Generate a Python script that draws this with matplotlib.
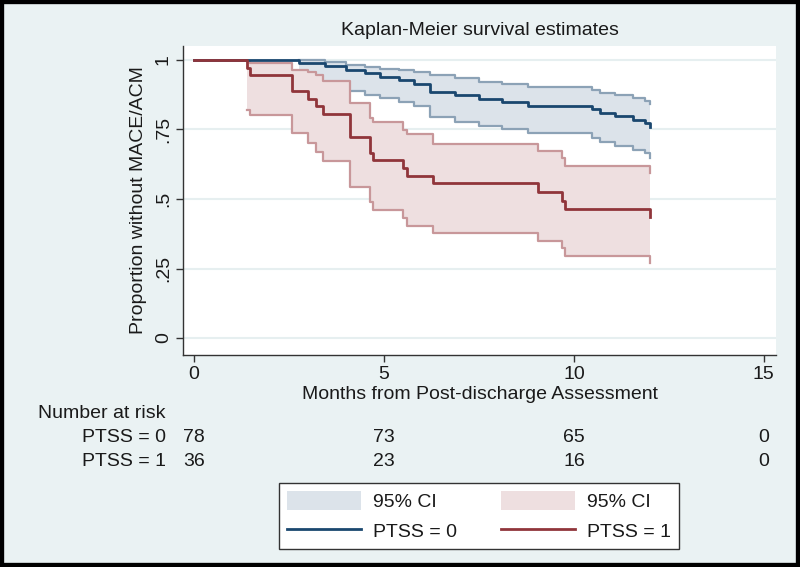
import matplotlib
matplotlib.use("Agg")
import matplotlib.pyplot as plt
from matplotlib.patches import Patch, Rectangle
from matplotlib.lines import Line2D
import matplotlib.transforms as mtransforms

plt.rcParams['font.family'] = ['Liberation Sans', 'DejaVu Sans']

# ---------------- data ----------------
title = "Kaplan-Meier survival estimates"
xlabel = "Months from Post-discharge Assessment"
ylabel = "Proportion without MACE/ACM"
xticks = [0, 5, 10, 15]
yticks = [0, 0.25, 0.5, 0.75, 1]
ytick_labels = ["0", ".25", ".5", ".75", "1"]

# PTSS = 0 Kaplan-Meier estimate
t0 = [0, 2.77, 3.45, 3.99, 4.50, 4.89, 5.40, 5.80, 6.20, 6.87, 7.49, 8.10,
      8.80, 10.47, 10.68, 11.08, 11.56, 11.87, 12.0]
s0 = [1.0, 0.988, 0.977, 0.965, 0.952, 0.940, 0.928, 0.914, 0.886, 0.873,
      0.860, 0.848, 0.835, 0.823, 0.810, 0.797, 0.784, 0.772, 0.758]
# 95% CI for PTSS = 0 (defined from the first event)
ci0_t = t0[1:]
ub0 = [0.998, 0.991, 0.983, 0.976, 0.967, 0.962, 0.955, 0.944, 0.935, 0.922,
       0.912, 0.903, 0.892, 0.882, 0.873, 0.862, 0.851, 0.842]
lb0 = [0.910, 0.902, 0.890, 0.874, 0.862, 0.850, 0.835, 0.796, 0.778, 0.764,
       0.751, 0.736, 0.721, 0.706, 0.691, 0.676, 0.664, 0.646]

# PTSS = 1 Kaplan-Meier estimate
t1 = [0, 1.39, 1.47, 2.59, 3.01, 3.21, 3.40, 4.10, 4.63, 4.72, 5.49, 5.60,
      6.28, 9.06, 9.68, 9.76, 12.0]
s1 = [1.0, 0.972, 0.944, 0.889, 0.861, 0.833, 0.806, 0.722, 0.667, 0.639,
      0.611, 0.583, 0.556, 0.525, 0.494, 0.463, 0.434]
ci1_t = t1[1:]
ub1 = [0.996, 0.988, 0.964, 0.955, 0.946, 0.925, 0.844, 0.790, 0.778, 0.748,
       0.732, 0.698, 0.674, 0.646, 0.619, 0.592]
lb1 = [0.820, 0.802, 0.736, 0.700, 0.670, 0.637, 0.544, 0.490, 0.460, 0.431,
       0.403, 0.377, 0.349, 0.323, 0.295, 0.271]

risk_times = [0, 5, 10, 15]
risk_labels = ["PTSS = 0", "PTSS = 1"]
risk_ptss0 = [78, 73, 65, 0]
risk_ptss1 = [36, 23, 16, 0]

legend_labels = ["95% CI", "PTSS = 0", "95% CI", "PTSS = 1"]

# ---------------- style ----------------
bg = "#EAF2F3"
navy = "#1A476F"
maroon = "#90353B"
navy_ci_fill = "#DCE3EA"
navy_ci_edge = "#8CA2B6"
maroon_ci_fill = "#EEDFE0"
maroon_ci_edge = "#C8979A"
txt = "#1a1a1a"
fs = 14

fig = plt.figure(figsize=(8.0, 5.67), dpi=100, facecolor=bg)
ax = fig.add_axes([183/800, 1-355/567, (776-183)/800, (355-46)/567])
ax.set_facecolor("white")

ax.set_xlim(-0.29, 15.32)
ax.set_ylim(-0.061, 1.05)

for y in yticks:
    ax.axhline(y, color="#E6EFF0", lw=1.5, zorder=0)

# CI bands: blue first, then red on top
ax.fill_between(ci0_t, lb0, ub0, step="post", color=navy_ci_fill, lw=0, zorder=1)
ax.step(ci0_t, ub0, where="post", color=navy_ci_edge, lw=1.6, zorder=2)
ax.step(ci0_t, lb0, where="post", color=navy_ci_edge, lw=1.6, zorder=2)
ax.fill_between(ci1_t, lb1, ub1, step="post", color=maroon_ci_fill, lw=0, zorder=3)
ax.step(ci1_t, ub1, where="post", color=maroon_ci_edge, lw=1.6, zorder=4)
ax.step(ci1_t, lb1, where="post", color=maroon_ci_edge, lw=1.6, zorder=4)

ax.step(t0, s0, where="post", color=navy, lw=2.0, zorder=5)
ax.step(t1, s1, where="post", color=maroon, lw=2.0, zorder=6)

for side in ["top", "right"]:
    ax.spines[side].set_visible(False)
for side in ["left", "bottom"]:
    ax.spines[side].set_color("#333333")
    ax.spines[side].set_linewidth(1.0)

ax.set_xticks(xticks)
ax.set_xticklabels([str(v) for v in xticks], fontsize=fs, color=txt)
ax.set_yticks(yticks)
ax.set_yticklabels(ytick_labels, fontsize=fs, color=txt, rotation=90, va="center")
ax.tick_params(axis="both", direction="out", length=5, width=1.0, color="#333333", pad=3)

ax.set_xlabel(xlabel, fontsize=fs, color=txt, labelpad=2)
ax.set_ylabel(ylabel, fontsize=fs, color=txt, labelpad=6)
ax.set_title(title, fontsize=fs, color=txt, pad=8)

# risk table
trans = mtransforms.blended_transform_factory(ax.transData, fig.transFigure)
fig.text(38/800, 1-413/567, "Number at risk", fontsize=fs, color=txt, ha="left", va="center")
rows = [risk_ptss0, risk_ptss1]
row_y = [1-438/567, 1-462/567]
for lab, vals, yy in zip(risk_labels, rows, row_y):
    fig.text(166/800, yy, lab, fontsize=fs, color=txt, ha="right", va="center")
    for tm, v in zip(risk_times, vals):
        ax.text(tm, yy, str(v), transform=trans, fontsize=fs, color=txt,
                ha="center", va="center", clip_on=False)

# legend
handles = [Patch(facecolor=navy_ci_fill, edgecolor="none"),
           Line2D([], [], color=navy, lw=2.0),
           Patch(facecolor=maroon_ci_fill, edgecolor="none"),
           Line2D([], [], color=maroon, lw=2.0)]
leg = fig.legend(handles, legend_labels, ncol=2, loc="center",
                 bbox_to_anchor=(479/800, 1-516/567), fontsize=fs,
                 frameon=True, fancybox=False, framealpha=1, edgecolor="#333333",
                 handlelength=3.8, handleheight=1.1, handletextpad=0.6,
                 columnspacing=2.3, labelspacing=0.5, borderpad=0.4)
leg.get_frame().set_linewidth(1.0)
for t in leg.get_texts():
    t.set_color(txt)

# outer black border
fig.patches.append(Rectangle((0, 0), 1, 1, transform=fig.transFigure,
                             fill=False, edgecolor="black", lw=6, zorder=10))

fig.savefig("out.png", dpi=100, facecolor=bg)
